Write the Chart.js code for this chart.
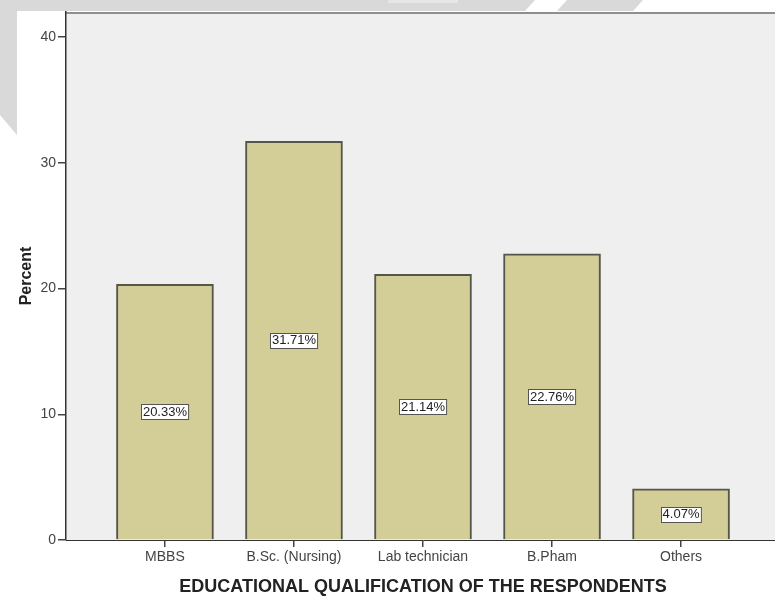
<!DOCTYPE html>
<html>
<head>
<meta charset="utf-8">
<script src="https://cdn.jsdelivr.net/npm/chart.js@4.4.1/dist/chart.umd.min.js"></script>
<style>
  html, body { margin: 0; padding: 0; background: #ffffff; overflow: hidden; }
  #wrap { position: relative; width: 785px; height: 597px; }
</style>
</head>
<body>
<div id="wrap"><canvas id="chart"></canvas></div>
<script>
// Respondents by educational qualification (percent of total)
const categories = ['MBBS', 'B.Sc. (Nursing)', 'Lab technician', 'B.Pham', 'Others'];
const percents = [20.33, 31.71, 21.14, 22.76, 4.07];
const yTickValues = [0, 10, 20, 30, 40];
const yAxisTitle = 'Percent';
const xAxisTitle = 'EDUCATIONAL QUALIFICATION OF THE RESPONDENTS';

const FONT = "'Liberation Sans', Arial, sans-serif";

// Page backdrop, faint grey banner shapes and the shaded plot panel
const panelPlugin = {
  id: 'panel',
  beforeDraw(chart) {
    const ctx = chart.ctx;
    const a = chart.chartArea;
    ctx.save();
    ctx.fillStyle = '#ffffff';
    ctx.fillRect(0, 0, chart.width, chart.height);

    ctx.fillStyle = '#d9d9d9';
    ctx.beginPath();
    ctx.moveTo(0, 0); ctx.lineTo(535, 0); ctx.lineTo(525, 11); ctx.lineTo(0, 11);
    ctx.closePath(); ctx.fill();
    ctx.beginPath();
    ctx.moveTo(567, 0); ctx.lineTo(643, 0); ctx.lineTo(633, 11); ctx.lineTo(557, 11);
    ctx.closePath(); ctx.fill();
    ctx.beginPath();
    ctx.moveTo(0, 11); ctx.lineTo(17, 11); ctx.lineTo(17, 135); ctx.lineTo(0, 115);
    ctx.closePath(); ctx.fill();
    ctx.fillStyle = '#e6e6e6';
    ctx.fillRect(388, 0, 70, 3);

    ctx.fillStyle = '#ffffff';
    ctx.fillRect(17, 11, chart.width - 17, chart.height - 11);

    ctx.fillStyle = '#efefef';
    ctx.fillRect(a.left, a.top, chart.width - a.left, a.bottom - a.top);
    ctx.strokeStyle = '#8e8e8e';
    ctx.lineWidth = 2;
    ctx.beginPath();
    ctx.moveTo(a.left, a.top + 1);
    ctx.lineTo(chart.width, a.top + 1);
    ctx.stroke();
    ctx.restore();
  }
};

// Boxed percentage label at the middle of each bar
const valueLabelPlugin = {
  id: 'valueLabels',
  afterDatasetsDraw(chart) {
    const ctx = chart.ctx;
    const meta = chart.getDatasetMeta(0);
    ctx.save();
    ctx.font = '13px ' + FONT;
    ctx.textAlign = 'center';
    ctx.textBaseline = 'middle';
    meta.data.forEach((bar, i) => {
      const text = percents[i].toFixed(2) + '%';
      const cy = (bar.y + bar.base) / 2;
      const w = ctx.measureText(text).width + 3;
      const h = 15;
      const x0 = Math.round(bar.x - w / 2) + 0.5;
      const y0 = Math.round(cy - h / 2) + 0.5;
      ctx.fillStyle = '#ffffff';
      ctx.fillRect(x0, y0, w, h);
      ctx.strokeStyle = '#555550';
      ctx.lineWidth = 1;
      ctx.strokeRect(x0, y0, w, h);
      ctx.fillStyle = '#222222';
      ctx.fillText(text, bar.x, cy + 0.5);
    });
    ctx.restore();
  }
};

new Chart(document.getElementById('chart'), {
  type: 'bar',
  data: {
    datasets: [{
      data: categories.map((c, i) => ({ x: i + 1, y: percents[i] })),
      backgroundColor: '#d3ce98',
      borderColor: '#55554a',
      borderWidth: 2,
      barThickness: 97
    }]
  },
  options: {
    responsive: true,
    maintainAspectRatio: false,
    animation: false,
    layout: { padding: { top: 12, right: 5, left: 0, bottom: 0 } },
    plugins: { legend: { display: false }, tooltip: { enabled: false } },
    scales: {
      x: {
        type: 'linear',
        offset: false,
        min: 0.233,
        max: 5.767,
        afterBuildTicks: (axis) => { axis.ticks = categories.map((c, i) => ({ value: i + 1 })); },
        afterFit: (axis) => { axis.height = 57; },
        grid: { display: true, offset: false, drawOnChartArea: false, tickLength: 7, color: '#444444', lineWidth: 1.5 },
        border: { display: true, color: '#333333', width: 1 },
        ticks: {
          padding: 2,
          color: '#444444',
          font: { family: FONT, size: 14 },
          maxRotation: 0,
          autoSkip: false,
          callback: (v) => categories[v - 1] || ''
        },
        title: {
          display: true,
          text: xAxisTitle,
          color: '#222222',
          font: { family: FONT, size: 18, weight: 'bold', lineHeight: 1 },
          padding: { top: 0, bottom: 1 }
        }
      },
      y: {
        min: 0,
        max: 42,
        afterBuildTicks: (axis) => { axis.ticks = yTickValues.map(v => ({ value: v })); },
        afterFit: (axis) => { axis.width = 66; },
        grid: { display: true, drawOnChartArea: false, tickLength: 8, color: '#444444', lineWidth: 1.5 },
        border: { display: true, color: '#333333', width: 1.5 },
        ticks: {
          padding: 2,
          color: '#444444',
          font: { family: FONT, size: 14 }
        },
        title: {
          display: true,
          text: yAxisTitle,
          color: '#222222',
          font: { family: FONT, size: 16, weight: 'bold', lineHeight: 1 },
          padding: { top: 19, bottom: 0 }
        }
      }
    }
  },
  plugins: [panelPlugin, valueLabelPlugin]
});
</script>
</body>
</html>
